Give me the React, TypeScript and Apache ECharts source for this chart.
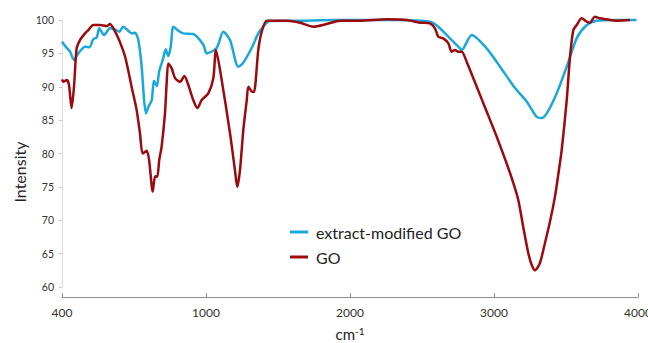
import React, { useEffect, useRef } from 'react';
import * as echarts from 'echarts';

const xTickLabels = ['400', '1000', '2000', '3000', '4000'];
const seriesNames = ['extract-modified GO', 'GO'];

// extract-modified GO (wavenumber cm-1, intensity)
const modWave = [400, 420, 433, 450, 468, 496, 514, 530, 545, 555, 575, 600, 621, 639, 655, 676, 690, 704, 718, 732, 742, 750, 760, 774, 783, 795, 805, 822, 832, 843, 853, 864, 885, 905, 947, 989, 1005, 1074, 1120, 1167, 1224, 1259, 1317, 1363, 1389, 1444, 1653, 1900, 2150, 2347, 2555, 2613, 2694, 2764, 2776, 2845, 2949, 3042, 3146, 3227, 3296, 3331, 3366, 3435, 3505, 3574, 3644, 3713, 3850, 3990];
const modIntensity = [96.75, 95.8, 95.3, 94.0, 95.0, 96.0, 95.9, 97.1, 97.4, 98.75, 97.75, 98.75, 98.6, 98.25, 99.0, 98.4, 98.0, 98.1, 97.0, 93.0, 88.0, 86.0, 87.0, 88.0, 90.9, 90.1, 92.3, 94.3, 95.6, 94.6, 96.0, 99.0, 98.4, 98.0, 97.9, 96.3, 95.0, 95.8, 98.25, 97.0, 93.0, 93.6, 95.8, 98.0, 98.8, 99.85, 99.9, 100.0, 100.0, 100.0, 99.75, 99.0, 97.25, 95.75, 95.5, 97.75, 95.75, 93.0, 89.8, 87.8, 85.5, 85.3, 86.0, 89.0, 93.0, 97.25, 99.25, 99.9, 100.0, 100.0];

// GO (wavenumber cm-1, intensity)
const goWave = [400, 405, 420, 429, 440, 450, 461, 475, 496, 510, 530, 558, 586, 600, 614, 635, 663, 690, 711, 725, 736, 753, 763, 778, 788, 797, 805, 815, 829, 836, 843, 857, 871, 892, 910, 926, 947, 964, 982, 1016, 1051, 1069, 1109, 1167, 1201, 1217, 1236, 1259, 1283, 1294, 1317, 1333, 1363, 1387, 1421, 1479, 1560, 1653, 1745, 1838, 1930, 2069, 2255, 2394, 2486, 2555, 2590, 2613, 2648, 2683, 2706, 2729, 2752, 2776, 2810, 2880, 2949, 3019, 3088, 3134, 3169, 3203, 3238, 3262, 3285, 3319, 3354, 3389, 3423, 3446, 3470, 3505, 3528, 3551, 3574, 3609, 3644, 3666, 3701, 3736, 3782, 3852, 3944];
const goIntensity = [91.1, 90.75, 91.0, 90.3, 86.8, 90.0, 95.75, 97.0, 98.0, 98.5, 99.25, 99.25, 99.1, 99.4, 98.75, 97.25, 94.5, 90.0, 86.5, 83.0, 80.0, 80.4, 79.0, 74.3, 76.6, 76.5, 79.0, 81.0, 86.0, 90.5, 93.5, 92.75, 91.3, 90.75, 91.6, 90.3, 88.0, 86.8, 88.0, 89.0, 91.3, 95.5, 91.0, 83.0, 77.5, 75.0, 77.5, 83.5, 88.0, 90.0, 89.3, 89.2, 95.5, 98.25, 99.9, 99.9, 99.9, 99.6, 99.0, 99.4, 99.9, 99.9, 100.1, 100.0, 99.6, 99.5, 98.75, 97.5, 97.25, 96.5, 95.25, 95.5, 95.25, 95.25, 93.75, 90.0, 86.3, 82.5, 78.5, 75.6, 73.0, 69.0, 65.1, 63.3, 62.5, 63.6, 66.6, 69.8, 73.5, 76.8, 80.5, 88.0, 94.5, 98.5, 99.25, 100.25, 99.75, 99.6, 100.5, 100.25, 100.1, 99.9, 100.0];

// The original axis places 400 where 0 would be: 400–1000 takes one full tick step.
function axisPos(w: number): number {
  return w < 1000 ? ((w - 400) / 600) * 1000 : w;
}

const FONT = 'Lato, "Open Sans", sans-serif';

export default function App() {
  const ref = useRef<HTMLDivElement>(null);
  useEffect(() => {
    if (!ref.current) return;
    const chart = echarts.init(ref.current, null, { renderer: 'svg' });
    const modData = modWave.map((w, i) => [axisPos(w), modIntensity[i]]);
    const goData = goWave.map((w, i) => [axisPos(w), goIntensity[i]]);
    chart.setOption({
      animation: false,
      backgroundColor: '#ffffff',
      textStyle: { fontFamily: FONT },
      grid: { left: 62, right: 10, top: 20, bottom: 56, containLabel: false, outerBoundsMode: 'none' },
      legend: {
        orient: 'vertical',
        left: 285,
        top: 219,
        itemGap: 9,
        itemWidth: 18,
        itemHeight: 3,
        icon: 'rect',
        data: seriesNames,
        textStyle: { fontFamily: FONT, fontSize: 16, color: '#222', padding: [0, 0, 0, 3] },
      },
      xAxis: {
        type: 'value',
        min: 0,
        max: 4000,
        interval: 1000,
        offset: 10,
        name: 'cm{sup|-1}',
        nameLocation: 'middle',
        nameGap: 29,
        nameTextStyle: {
          fontFamily: FONT,
          fontSize: 15,
          color: '#222',
          rich: { sup: { fontFamily: FONT, fontSize: 10, verticalAlign: 'top', padding: [0, 0, 6, 0], color: '#222' } },
        },
        splitLine: { show: false },
        axisLine: { show: true, lineStyle: { color: '#8c8c8c', width: 1 } },
        axisTick: { show: true, inside: true, length: 4, lineStyle: { color: '#8c8c8c' } },
        axisLabel: {
          fontFamily: FONT,
          fontSize: 12,
          color: '#333',
          margin: 9,
          formatter: (v: number) => xTickLabels[Math.round(v / 1000)] ?? '',
        },
      },
      yAxis: {
        type: 'value',
        min: 60,
        max: 100,
        interval: 5,
        splitLine: { show: false },
        axisLine: { show: true, lineStyle: { color: '#dcdcdc', width: 1 } },
        axisTick: { show: true, length: 3, lineStyle: { color: '#c8c8c8' } },
        axisLabel: { fontFamily: FONT, fontSize: 10.5, color: '#333', margin: 8 },
      },
      graphic: [
        {
          type: 'text',
          x: 19,
          y: 172,
          rotation: Math.PI / 2,
          style: {
            text: 'Intensity',
            fontFamily: FONT,
            fontSize: 16,
            fill: '#222',
            align: 'center',
            verticalAlign: 'middle',
          },
        },
      ],
      series: [
        {
          name: seriesNames[0],
          type: 'line',
          data: modData,
          showSymbol: false,
          smooth: 0.25,
          clip: false,
          color: '#1AA8DA',
          lineStyle: { color: '#1AA8DA', width: 2.5 },
        },
        {
          name: seriesNames[1],
          type: 'line',
          data: goData,
          showSymbol: false,
          smooth: 0.25,
          clip: false,
          color: '#9C0A0E',
          lineStyle: { color: '#9C0A0E', width: 2.5 },
        },
      ],
    });
    return () => chart.dispose();
  }, []);
  return <div ref={ref} style={{ position: 'fixed', left: 0, top: 0, width: 648, height: 343 }} />;
}
